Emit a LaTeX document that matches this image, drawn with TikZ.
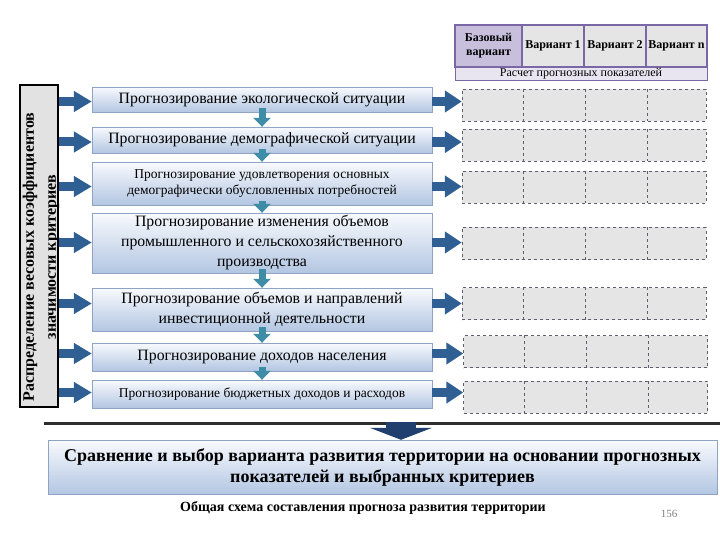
\documentclass[tikz,border=0pt]{standalone}
\usepackage{fontspec}
\setmainfont{Liberation Serif}
\usetikzlibrary{arrows.meta}
\definecolor{boxtop}{HTML}{F8FAFD}
\definecolor{boxbot}{HTML}{B3C6E2}
\definecolor{boxline}{HTML}{8EA4C2}
\definecolor{arrblue}{HTML}{2F5F93}
\definecolor{arrteal}{HTML}{3E8CA6}
\definecolor{darkblue}{HTML}{203F6E}
\definecolor{purp}{HTML}{7A68A6}
\definecolor{lav}{HTML}{C8BFDD}
\definecolor{lavlight}{HTML}{E8E5F0}
\definecolor{cellgray}{HTML}{E5E5E5}
\definecolor{dashgray}{HTML}{5E5E6E}
\definecolor{bargray}{HTML}{E2E2E2}
\definecolor{linegray}{HTML}{2E2E2E}
\begin{document}
\begin{tikzpicture}[x=1pt,y=-1pt,
  fbox/.style={draw=boxline, top color=boxtop, bottom color=boxbot, minimum width=340pt, inner sep=1pt, align=center},
  bigtxt/.style={font=\fontsize{15.8}{20}\selectfont},
  smalltxt/.style={font=\fontsize{13.5}{16}\selectfont},
  gridrow/.style={draw=dashgray, dashed, fill=cellgray, minimum width=244pt, minimum height=32pt, inner sep=0pt},
  hcell/.style={draw=purp, line width=2.5pt, fill=cellgray, minimum height=42pt, inner sep=0pt, align=center, font=\bfseries\fontsize{12}{14}\selectfont},
  rarr/.style={draw=arrblue, line width=9.5pt, -{Triangle[length=17pt,width=21pt]}},
  larr/.style={draw=arrblue, line width=9pt, -{Triangle[length=18pt,width=20pt]}},
  darr/.style={draw=arrteal, line width=7pt, -{Triangle[length=9pt,width=17pt]}},
  bigdarr/.style={draw=darkblue, line width=30pt, -{Triangle[length=12pt,width=62pt]}}
]
\useasboundingbox (0,0) rectangle (720,540);
\fill[white] (0,0) rectangle (720,540);

% header
\node[hcell, fill=lav, minimum width=67pt] (h0) at (488.5,46) {Базовый\\вариант};
\node[hcell, minimum width=62pt] (h1) at (553,46) {Вариант 1};
\node[hcell, minimum width=62pt] (h2) at (615,46) {Вариант 2};
\node[hcell, minimum width=61pt] (h3) at (676.5,46) {Вариант n};
\node[draw=purp, line width=0.8pt, fill=lavlight, minimum width=252pt, minimum height=13pt, text height=8.5pt, text depth=2.5pt, inner sep=0pt, font=\fontsize{12}{13}\selectfont] (hr) at (581,73.5) {Расчет прогнозных показателей};

% left bar
\node[draw=black, line width=1.6pt, fill=bargray, minimum width=38pt, minimum height=322pt] (bar) at (39,246) {};
\node[rotate=90, align=center, inner sep=0pt, font=\bfseries\fontsize{16}{22}\selectfont] (bart) at (41,257) {Распределение весовых коэффициентов\\значимости критериев};

% forecast boxes
\node[fbox, bigtxt, minimum height=25pt] (b1) at (262,99.5) {Прогнозирование экологической ситуации};
\node[fbox, bigtxt, minimum height=26pt] (b2) at (262,140) {Прогнозирование демографической ситуации};
\node[fbox, smalltxt, minimum height=43pt] (b3) at (262,183.5) {Прогнозирование удовлетворения основных\\демографически обусловленных потребностей};
\node[fbox, bigtxt, minimum height=60pt] (b4) at (262,243) {Прогнозирование изменения объемов\\промышленного и сельскохозяйственного\\производства};
\node[fbox, bigtxt, minimum height=43pt] (b5) at (262,309.5) {Прогнозирование объемов и направлений\\инвестиционной деятельности};
\node[fbox, bigtxt, minimum height=28pt] (b6) at (262,357) {Прогнозирование доходов населения};
\node[fbox, smalltxt, minimum height=28pt] (b7) at (262,394) {Прогнозирование бюджетных доходов и расходов};

% grid rows
\node[gridrow] (g1) at (584,105) {};
\node[gridrow] (g2) at (584,145) {};
\node[gridrow] (g3) at (584,187) {};
\node[gridrow] (g4) at (584,243.5) {};
\node[gridrow] (g5) at (584,303.5) {};
\node[gridrow] (g6) at (585.5,351.5) {};
\node[gridrow] (g7) at (585.5,397) {};
\foreach \g in {g1,g2,g3,g4,g5,g6,g7}{
  \foreach \d in {61,123,185}{
    \draw[draw=dashgray, dashed] ([xshift=\d pt]\g.north west) -- ([xshift=\d pt]\g.south west);
  }
}

% arrow levels
\coordinate (y1) at (0,101.5);
\coordinate (y2) at (0,142);
\coordinate (y3) at (0,186.5);
\coordinate (y4) at (0,242.5);
\coordinate (y5) at (0,303.5);
\coordinate (y6) at (0,353.5);
\coordinate (y7) at (0,392.5);
\foreach \i in {1,...,7}{
  \draw[larr] (bar.east |- y\i) -- (b\i.west |- y\i);
  \draw[rarr] (b\i.east |- y\i) -- (g\i.west |- y\i);
}

% down arrows between boxes
\foreach \a/\b in {1/2,2/3,3/4,4/5,5/6,6/7}{
  \draw[darr] ([yshift=4pt]b\a.south) -- (b\b.north);
}

% separator line
\coordinate (l1) at (44,423);
\coordinate (l2) at (720,423);
\draw[linegray, line width=3pt] (l1) -- (l2);

% bottom box
\node[draw=boxline, top color=boxtop, bottom color=boxbot, minimum width=669pt, minimum height=54pt, align=center, inner sep=1pt, font=\bfseries\fontsize{18}{21}\selectfont] (bot) at (382.5,467) {Сравнение и выбор варианта развития территории на основании прогнозных\\показателей и выбранных критериев};
\coordinate (ds) at (401,422);
\draw[bigdarr] (ds) -- (ds |- bot.north);

% caption
\node[font=\bfseries\fontsize{14}{16}\selectfont, inner sep=0pt] (cap) at (363,508) {Общая схема составления прогноза развития территории};
\node[font=\fontsize{11}{12}\selectfont, text=gray, inner sep=0pt] (pg) at (669,514) {156};
\end{tikzpicture}
\end{document}
